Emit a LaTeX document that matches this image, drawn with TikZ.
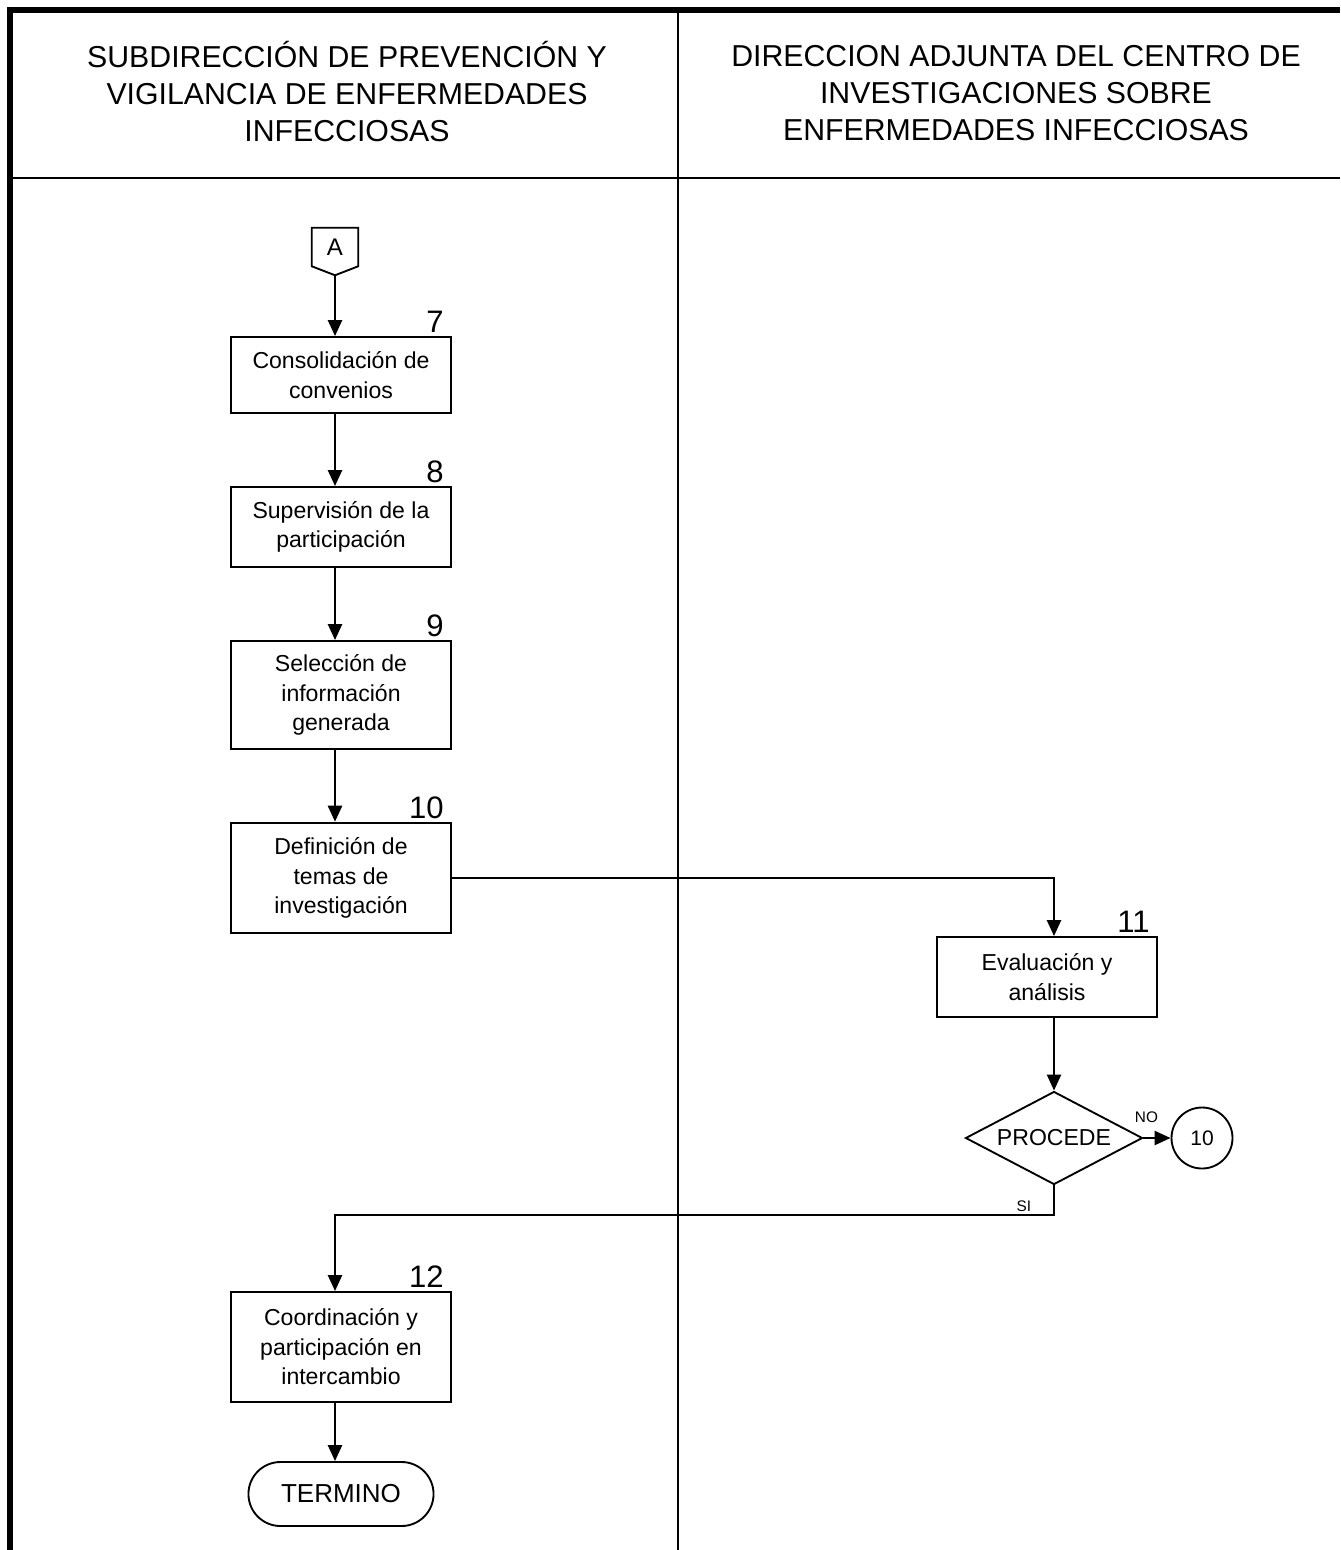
\documentclass[tikz,border=0pt]{standalone}
\usepackage{fontspec}
\setmainfont{Liberation Sans}
\usetikzlibrary{arrows.meta,shapes.geometric,shapes.misc,calc,positioning}

\begin{document}
\begin{tikzpicture}[
  x=0.75pt, y=-0.75pt,
  head/.style={align=center, font=\fontsize{22.7pt}{27.75pt}\selectfont},
  proc/.style={rectangle, draw, line width=1.4pt, minimum width=165pt,
               minimum height=#1, inner sep=0pt, align=center,
               font=\fontsize{17.3pt}{22.1pt}\selectfont},
  proc/.default={60pt},
  num/.style={anchor=base east, inner sep=0pt, xshift=-6pt, yshift=2.5pt,
              font=\fontsize{23.3pt}{28pt}\selectfont},
  dec/.style={diamond, draw, line width=1.4pt, shape aspect=1.9,
              minimum width=132.75pt, minimum height=69.75pt, inner sep=0pt,
              font=\fontsize{17.3pt}{22pt}\selectfont},
  conn/.style={circle, draw, line width=1.4pt, minimum size=45.75pt,
               inner sep=0pt, font=\fontsize{15.75pt}{18pt}\selectfont},
  term/.style={rounded rectangle, draw, line width=1.4pt, minimum width=145.5pt,
               minimum height=48pt, font=\fontsize{19.5pt}{24pt}\selectfont},
  tag/.style={inner sep=0pt, font=\fontsize{11.5pt}{13pt}\selectfont},
  arr/.style={-{Triangle[length=12pt, width=10.5pt]}, line width=1.8pt}
]
  \useasboundingbox (0,0) rectangle (1340,1550);

  % Marco y carriles
  \draw[line width=4.5pt] (10,1550) -- (10,10) -- (1340,10);
  \draw[line width=2pt] (10,178) -- (1340,178);
  \draw[line width=2.2pt] (678,10) -- (678,1550);

  \node[head] (h1) at (347, 92) {SUBDIRECCIÓN DE PREVENCIÓN Y\\VIGILANCIA DE ENFERMEDADES\\INFECCIOSAS};
  \node[head] (h2) at (1016, 93) {DIRECCION ADJUNTA DEL CENTRO DE\\INVESTIGACIONES SOBRE\\ENFERMEDADES INFECCIOSAS};

  % Conector A
  \node[minimum width=34.5pt, minimum height=28.5pt, inner sep=0pt,
        font=\fontsize{18pt}{20pt}\selectfont] (A) at (335, 247) {A};
  \coordinate (Atip) at ($(A.south)+(0,9)$);
  \draw[line width=1.4pt] (A.south west) -- (A.north west) -- (A.north east)
    -- (A.south east) -- (Atip) -- cycle;

  % Actividades 7 a 10
  \node[proc=57pt] (b7) at (341, 375) {Consolidación de\\convenios};
  \node[num] at (b7.north east) {7};
  \draw[arr] (Atip) -- (b7.north -| Atip);

  \node[proc=60pt] (b8) at (341, 527) {Supervisión de la\\participación};
  \node[num] at (b8.north east) {8};
  \draw[arr] (b7.south -| Atip) -- (b8.north -| Atip);

  \node[proc=81pt] (b9) at (341, 695) {Selección de\\información\\generada};
  \node[num] at (b9.north east) {9};
  \draw[arr] (b8.south -| Atip) -- (b9.north -| Atip);

  \node[proc=83pt] (b10) at (341, 878) {Definición de\\temas de\\investigación};
  \node[num] at (b10.north east) {10};
  \draw[arr] (b9.south -| Atip) -- (b10.north -| Atip);

  % Evaluacion y decision
  \node[dec] (dec) at (1054, 1138) {PROCEDE};
  \node[proc=60pt] (b11) at (1047, 977) {Evaluación y\\análisis};
  \node[num] at (b11.north east) {11};
  \draw[arr] (b10.east) -| (b11.north -| dec);
  \draw[arr] (b11.south -| dec) -- (dec.north);

  \node[conn] (c10) at (1202, 1138) {10};
  \draw[arr] (dec.east) -- (c10.west);
  \node[tag, above=11pt] at ($(dec.east)+(3,0)$) {NO};

  % Intercambio y termino
  \node[proc=82.5pt] (b12) at (341, 1347) {Coordinación y\\participación en\\intercambio};
  \node[num] at (b12.north east) {12};
  \coordinate (si) at (dec.south |- 0,1215);
  \draw[arr] (dec.south) -- (si) -| (b12.north -| Atip);
  \node[tag, above left=2.5pt and 17pt] at (si) {SI};

  \node[term] (fin) at (341, 1494) {TERMINO};
  \draw[arr] (b12.south -| Atip) -- (fin.north -| Atip);
\end{tikzpicture}
\end{document}
